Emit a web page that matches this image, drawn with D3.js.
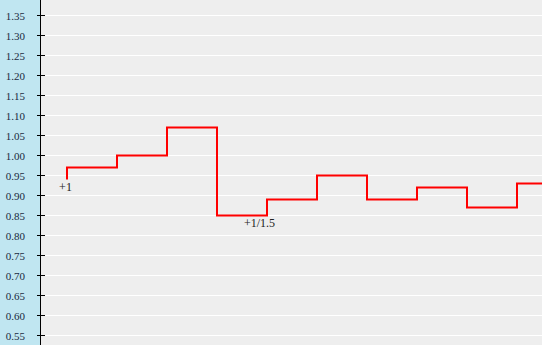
<!DOCTYPE html>
<html><head><meta charset="utf-8">
<script src="https://cdn.jsdelivr.net/npm/d3@7"></script>
<style>html,body{margin:0;padding:0;background:#eeeeee;overflow:hidden}svg{display:block}</style>
</head><body>
<svg id="chart" width="542" height="345"></svg>
<script>
// Data
const stepIndex = [0, 1, 2, 3, 4, 5, 6, 7, 8, 9, 10];
const stepValues = [0.94, 0.97, 1.00, 1.07, 0.85, 0.89, 0.95, 0.89, 0.92, 0.87, 0.93];
const pointLabels = ["+1", "", "", "", "+1/1.5", "", "", "", "", "", ""];
const tickValues = [0.55, 0.60, 0.65, 0.70, 0.75, 0.80, 0.85, 0.90, 0.95, 1.00, 1.05, 1.10, 1.15, 1.20, 1.25, 1.30, 1.35];
const tickLabels = ["0.55","0.60","0.65","0.70","0.75","0.80","0.85","0.90","0.95","1.00","1.05","1.10","1.15","1.20","1.25","1.30","1.35"];

const W = 542, H = 345;
const svg = d3.select("#chart");
const y = d3.scaleLinear().domain([0.5, 1.4]).range([355.5, -4.5]);
const x = d3.scaleLinear().domain([0, 10]).range([67, 567]);
const axisX = 40.5;

// background
svg.append("rect").attr("x", 0).attr("y", 0).attr("width", W).attr("height", H).attr("fill", "#eeeeee");
svg.append("rect").attr("x", 0).attr("y", 0).attr("width", 41).attr("height", H).attr("fill", "#c0e6f1");

// gridlines
svg.append("g").selectAll("line").data(tickValues).join("line")
  .attr("x1", axisX + 1).attr("x2", W)
  .attr("y1", d => Math.round(y(d) - 0.5) + 0.5).attr("y2", d => Math.round(y(d) - 0.5) + 0.5)
  .attr("stroke", "#ffffff").attr("stroke-width", 1);

// axis
const axis = d3.axisLeft(y).tickValues(tickValues).tickFormat((d, i) => tickLabels[i])
  .tickSizeInner(4).tickSizeOuter(0).tickPadding(12);
const gA = svg.append("g").attr("transform", `translate(${axisX},0)`).call(axis);
gA.select(".domain").remove();
gA.selectAll(".tick").attr("transform", d => `translate(0,${Math.round(y(d) - 0.5) + 0.5})`);
gA.selectAll(".tick line").attr("x1", -4).attr("x2", 4).attr("stroke", "#000").attr("shape-rendering", "crispEdges");
gA.selectAll(".tick text").attr("x", 25 - axisX).attr("dy", "0.4em")
  .attr("font-family", "'Liberation Serif', 'Times New Roman', serif").attr("font-size", 11).attr("fill", "#1a2a40");
svg.append("line").attr("x1", axisX).attr("x2", axisX).attr("y1", 0).attr("y2", H)
  .attr("stroke", "#000").attr("stroke-width", 1);

// step line
const pts = stepIndex.map((d, i) => [d, stepValues[i]]);
const line = d3.line().x(d => x(d[0])).y(d => y(d[1])).curve(d3.curveStepBefore);
svg.append("path").datum(pts).attr("d", line)
  .attr("fill", "none").attr("stroke", "#ff0000").attr("stroke-width", 2);

// point labels
const labelDx = {"+1": -1.5, "+1/1.5": -7.5};
svg.append("g").selectAll("text").data(pts.filter((d, i) => pointLabels[i] !== ""))
  .join("text")
  .attr("x", d => x(d[0]) + labelDx[pointLabels[d[0]]])
  .attr("y", d => y(d[1]) + 11.5)
  .attr("text-anchor", "middle")
  .attr("font-family", "'Liberation Serif', 'Times New Roman', serif").attr("font-size", 12)
  .attr("fill", "#222")
  .text(d => pointLabels[d[0]]);
</script>
</body></html>
